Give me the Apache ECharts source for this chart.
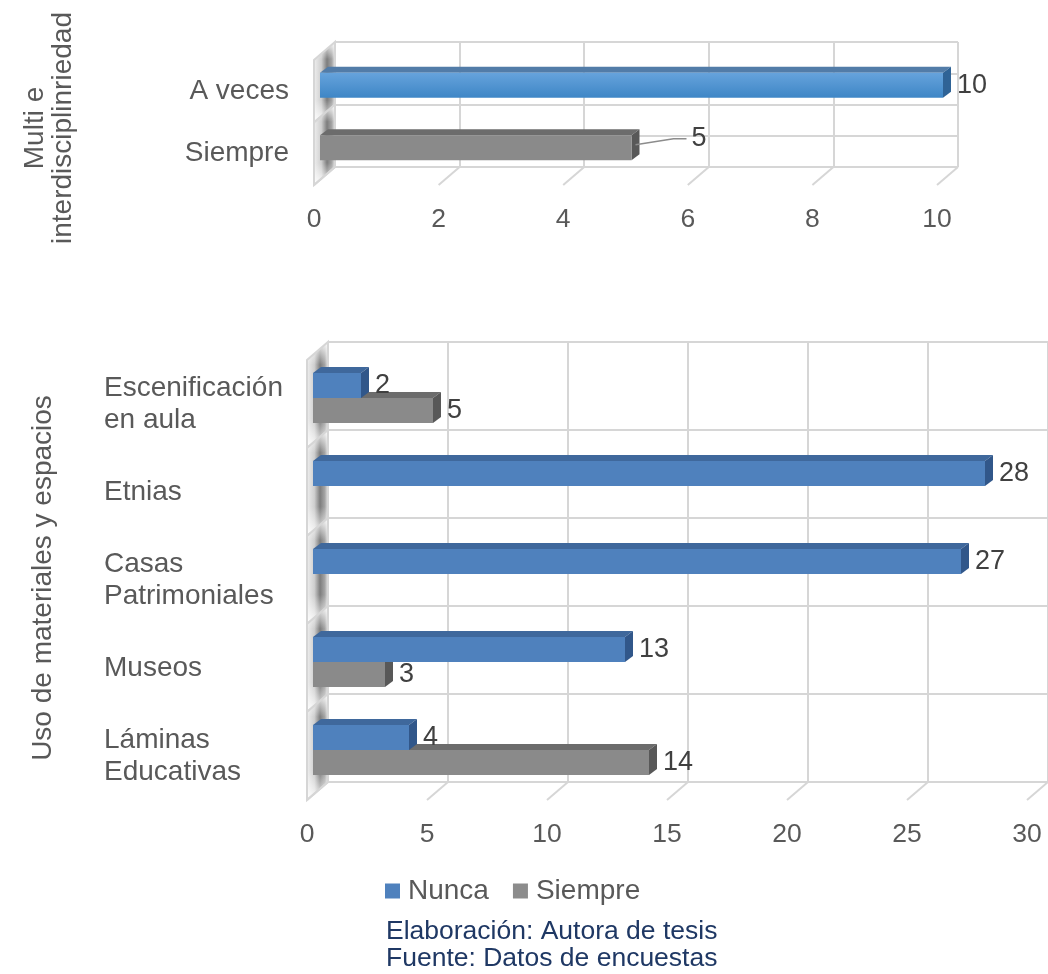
<!DOCTYPE html>
<html><head><meta charset="utf-8">
<script src="https://cdn.jsdelivr.net/npm/echarts/dist/echarts.min.js"></script>
<style>html,body{margin:0;padding:0;background:#fff}#c{width:1048px;height:974px}</style>
</head><body><div id="c"></div>
<script>
// ---------- data ----------
const topCategories = ['A veces', 'Siempre'];
const topValues = [10, 5];
const topTicks = [0, 2, 4, 6, 8, 10];
const categories = ['Escenificación\nen aula', 'Etnias', 'Casas\nPatrimoniales', 'Museos', 'Láminas\nEducativas'];
const nunca = [2, 28, 27, 13, 4];
const siempre = [5, null, null, 3, 14];
const bottomTicks = [0, 5, 10, 15, 20, 25, 30];
const seriesNames = ['Nunca', 'Siempre'];
const topAxisName = 'Multi e\ninterdisciplinriedad';
const bottomAxisName = 'Uso de materiales y espacios';
const sourceText = 'Elaboración: Autora de tesis\nFuente: Datos de encuestas';

// ---------- style ----------
const FONT = '"Liberation Sans", Arial, sans-serif';
const TXT = '#595959';
const GRID_LINE = '#d6d6d6';
const DEPTH = [-21, 18];
const BAR_OFF = [-15, 12];
const BAR_H = 25;
const FACE = [8, -6];
const COL_BLUE = { front: '#4f81bd', top: '#3f689c', side: '#31578a' };
const COL_GRAY = { front: '#8a8a8a', top: '#6c6c6c', side: '#585858' };
const COL_LIGHT = {
  front: new echarts.graphic.LinearGradient(0, 0, 0, 1, [{offset: 0, color: '#66a3dc'}, {offset: 1, color: '#3e86c6'}]),
  top: '#527ca8', side: '#2f6396'
};
const TOP_COLORS = [COL_LIGHT, COL_GRAY];
const TOP_LABEL_SHIFT = [[0, 0], [46, -9]];

function barRenderer(colorFn, pos, shiftFn) {
  return function (params, api) {
    const v = api.value(0);
    const ci = api.value(1);
    if (v == null || isNaN(v)) return;
    const c = api.coord([v, ci]);
    const c0 = api.coord([0, ci]);
    const cy = c[1] + BAR_OFF[1];
    const top = pos === 'upper' ? cy - BAR_H : (pos === 'lower' ? cy : cy - BAR_H / 2);
    const x0 = c0[0] + BAR_OFF[0], x1 = c[0] + BAR_OFF[0];
    const fx = FACE[0], fy = FACE[1];
    const col = colorFn(params.dataIndex);
    const shift = shiftFn ? shiftFn(params.dataIndex) : [0, 0];
    const lx = x1 + fx + 6 + shift[0], ly = top + BAR_H / 2 + shift[1];
    const children = [
      {type: 'polygon', shape: {points: [[x0, top], [x1, top], [x1 + fx, top + fy], [x0 + fx, top + fy]]}, style: {fill: col.top}},
      {type: 'polygon', shape: {points: [[x1, top], [x1 + fx, top + fy], [x1 + fx, top + BAR_H + fy], [x1, top + BAR_H]]}, style: {fill: col.side}},
      {type: 'rect', shape: {x: x0, y: top, width: x1 - x0, height: BAR_H}, style: {fill: col.front}}
    ];
    if (shift[0] !== 0 || shift[1] !== 0) {
      children.push({type: 'polyline', shape: {points: [[x1 + fx / 2, top + BAR_H / 2 + fy / 2], [lx - 18, ly], [lx - 5, ly]]},
        style: {stroke: '#8c8c8c', lineWidth: 1.5, fill: null}});
    }
    children.push({type: 'text', style: {text: String(v), x: lx, y: ly, fill: '#404040', font: '27px ' + FONT, align: 'left', verticalAlign: 'middle'}});
    return {type: 'group', children};
  };
}

function wallRenderer(params, api) {
  const ci = api.value(0);
  const c = api.coord([0, ci]);
  const h = api.size([0, 1])[1];
  const x = c[0], yt = c[1] - h / 2, yb = c[1] + h / 2;
  const pts = [[x, yt], [x, yb], [x + DEPTH[0], yb + DEPTH[1]], [x + DEPTH[0], yt + DEPTH[1]]];
  return {type: 'group', children: [
    {type: 'polygon', shape: {points: pts}, style: {fill: new echarts.graphic.LinearGradient(0, 0, 1, 0, [
      {offset: 0, color: '#eeeeee'}, {offset: 0.35, color: '#cfcfcf'}, {offset: 0.62, color: '#7d7d7d'},
      {offset: 0.85, color: '#a5a5a5'}, {offset: 1, color: '#e6e6e6'}])}},
    {type: 'polygon', shape: {points: pts}, style: {fill: new echarts.graphic.LinearGradient(0, 0, 0, 1, [
      {offset: 0, color: 'rgba(255,255,255,0.95)'}, {offset: 0.22, color: 'rgba(255,255,255,0)'},
      {offset: 0.72, color: 'rgba(255,255,255,0)'}, {offset: 1, color: 'rgba(255,255,255,0.95)'}]),
      stroke: GRID_LINE, lineWidth: 2}}
  ]};
}

function floorRenderer(params, api) {
  const v = api.value(0);
  const cs = params.coordSys;
  const x = api.coord([v, 0])[0];
  const y = cs.y + cs.height;
  return {type: 'line', shape: {x1: x, y1: y, x2: x + DEPTH[0], y2: y + DEPTH[1]}, style: {stroke: GRID_LINE, lineWidth: 2}};
}

const hidden = {axisLine: {show: false}, axisTick: {show: false}, axisLabel: {show: false}};
const labelStyle = {color: TXT, fontSize: 26.5, fontFamily: FONT};

const option = {
  backgroundColor: '#fff',
  animation: false,
  grid: [
    {left: 335, top: 42, width: 623, height: 125},
    {left: 314, top: 60, width: 623, height: 125},
    {left: 328, top: 342, width: 720, height: 440},
    {left: 307, top: 360, width: 720, height: 440}
  ],
  xAxis: [
    Object.assign({gridIndex: 0, type: 'value', min: 0, max: 10, interval: 2,
      splitLine: {show: true, lineStyle: {color: GRID_LINE, width: 2}}}, hidden),
    {gridIndex: 1, type: 'value', min: 0, max: 10, interval: 2, axisLine: {show: false}, axisTick: {show: false},
      splitLine: {show: false}, axisLabel: Object.assign({margin: 21}, labelStyle)},
    Object.assign({gridIndex: 2, type: 'value', min: 0, max: 30, interval: 5,
      splitLine: {show: true, lineStyle: {color: GRID_LINE, width: 2}}}, hidden),
    {gridIndex: 3, type: 'value', min: 0, max: 30, interval: 5, axisLine: {show: false}, axisTick: {show: false},
      splitLine: {show: false}, axisLabel: Object.assign({margin: 21}, labelStyle)}
  ],
  yAxis: [
    {gridIndex: 0, type: 'category', data: topCategories, inverse: true, show: false},
    Object.assign({gridIndex: 0, type: 'value', min: 0, max: 4, interval: 1,
      splitLine: {show: true, lineStyle: {color: GRID_LINE, width: 2}}}, hidden),
    {gridIndex: 1, type: 'category', data: topCategories, inverse: true, axisLine: {show: false}, axisTick: {show: false},
      axisLabel: {color: TXT, fontSize: 28, fontFamily: FONT, margin: 25}},
    Object.assign({gridIndex: 2, type: 'category', data: categories, inverse: true,
      splitLine: {show: true, interval: 0, lineStyle: {color: GRID_LINE, width: 2}}}, hidden),
    {gridIndex: 3, type: 'category', data: categories, inverse: true, axisLine: {show: false}, axisTick: {show: false},
      axisLabel: {color: TXT, fontSize: 28, fontFamily: FONT, margin: 203, align: 'left', lineHeight: 32, interval: 0}}
  ],
  legend: {
    data: seriesNames, left: 380, top: 872, icon: 'rect', itemWidth: 15, itemHeight: 15, itemGap: 24,
    textStyle: {color: TXT, fontSize: 28, fontFamily: FONT, padding: [0, 0, 0, 3]}
  },
  graphic: [
    {type: 'text', x: 49, y: 128, rotation: Math.PI / 2,
      style: {text: topAxisName, fill: TXT, font: '28px ' + FONT, align: 'center', verticalAlign: 'middle', lineHeight: 28}},
    {type: 'text', x: 43, y: 578, rotation: Math.PI / 2,
      style: {text: bottomAxisName, fill: TXT, font: '28px ' + FONT, align: 'center', verticalAlign: 'middle'}},
    {type: 'text', left: 386, top: 918,
      style: {text: sourceText, fill: '#1f3864', font: '26.5px ' + FONT, lineHeight: 27}}
  ],
  series: [
    {type: 'custom', name: 'wallTop', xAxisIndex: 0, yAxisIndex: 0, silent: true, z: 1,
      data: topCategories.map((c, i) => [i]), renderItem: wallRenderer},
    {type: 'custom', name: 'floorTop', xAxisIndex: 0, yAxisIndex: 0, silent: true, z: 1,
      data: topTicks.map(v => [v]), renderItem: floorRenderer},
    {type: 'custom', name: 'topBars', xAxisIndex: 0, yAxisIndex: 0, z: 3,
      data: topValues.map((v, i) => [v, i]),
      renderItem: barRenderer(i => TOP_COLORS[i], 'center', i => TOP_LABEL_SHIFT[i])},
    {type: 'custom', name: 'wallBottom', xAxisIndex: 2, yAxisIndex: 3, silent: true, z: 1,
      data: categories.map((c, i) => [i]), renderItem: wallRenderer},
    {type: 'custom', name: 'floorBottom', xAxisIndex: 2, yAxisIndex: 3, silent: true, z: 1,
      data: bottomTicks.map(v => [v]), renderItem: floorRenderer},
    {type: 'custom', name: seriesNames[1], xAxisIndex: 2, yAxisIndex: 3, z: 3, itemStyle: {color: '#8c8c8c'},
      data: siempre.map((v, i) => [v, i]), renderItem: barRenderer(() => COL_GRAY, 'lower')},
    {type: 'custom', name: seriesNames[0], xAxisIndex: 2, yAxisIndex: 3, z: 4, itemStyle: {color: '#4f81bd'},
      data: nunca.map((v, i) => [v, i]), renderItem: barRenderer(() => COL_BLUE, 'upper')}
  ]
};

const chart = echarts.init(document.getElementById('c'), null, {renderer: 'canvas'});
chart.setOption(option);
</script>
</body></html>
